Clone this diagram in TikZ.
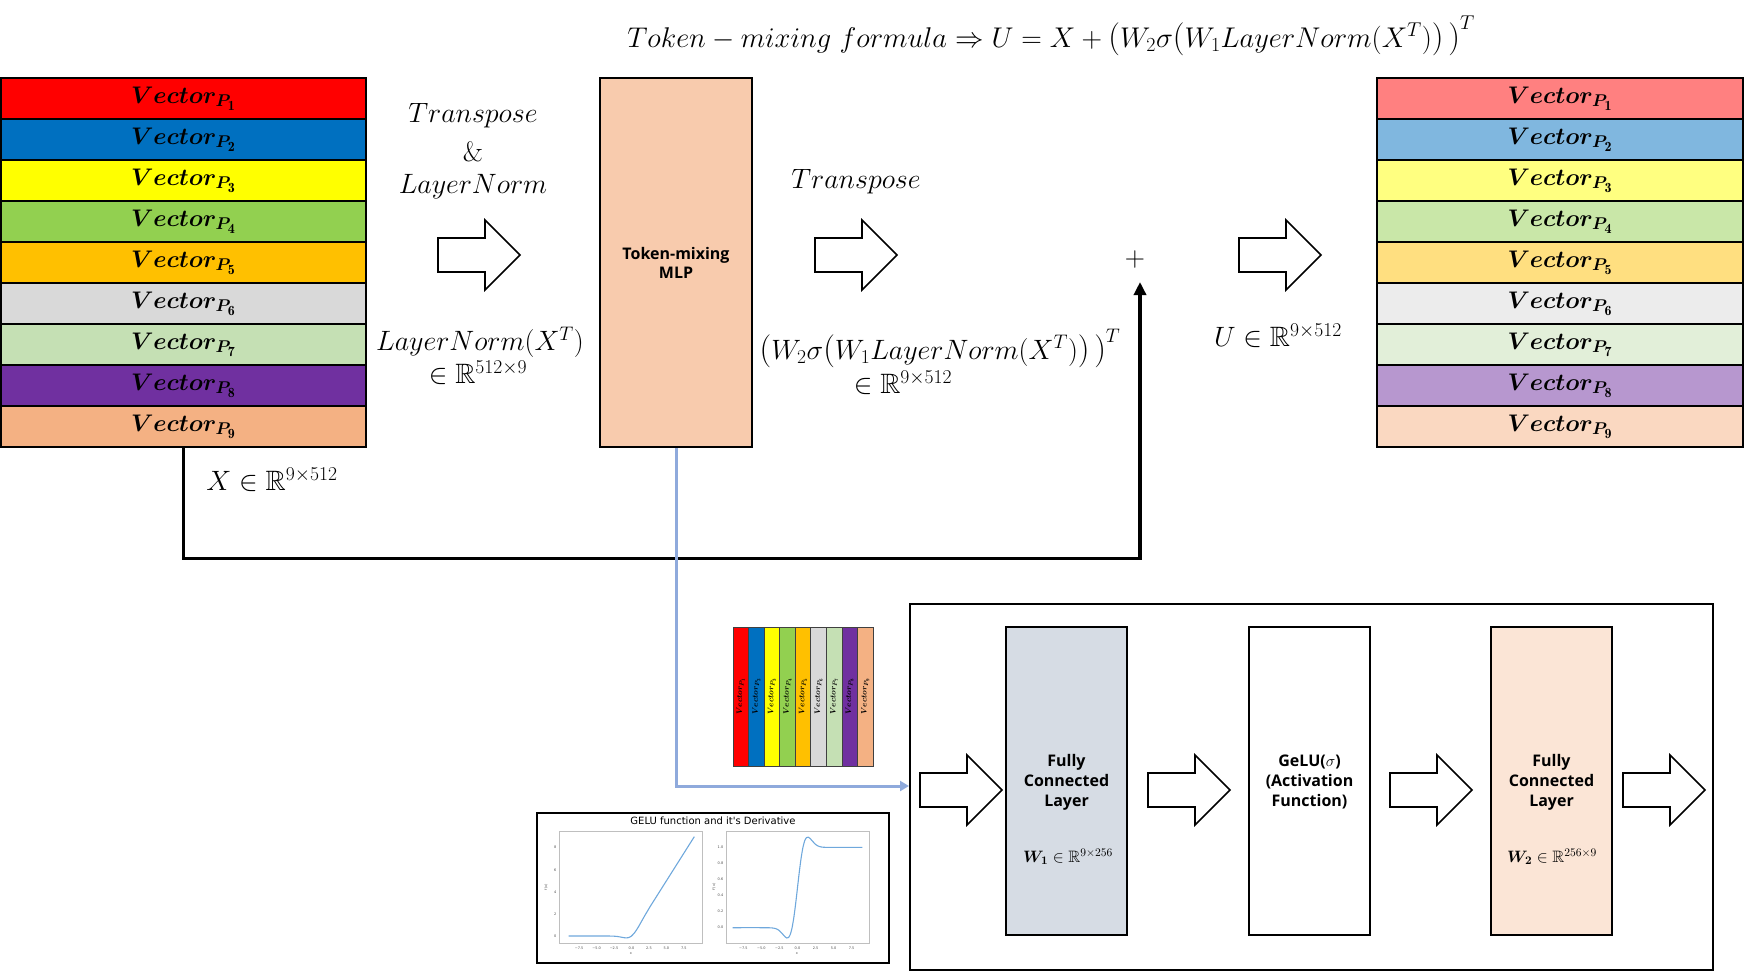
\RequirePackage{fix-cm}
\documentclass[tikz,border=0pt]{standalone}
\usepackage{amsmath,amssymb,bm}
\usepackage{fontspec}
\newfontfamily\osans{Open Sans}
\newfontfamily\djv{DejaVu Sans}
\usetikzlibrary{arrows.meta}
\DeclareMathSizes{24}{24}{17}{14}
\definecolor{c1}{HTML}{FF0000}
\definecolor{c2}{HTML}{0070C0}
\definecolor{c3}{HTML}{FFFF00}
\definecolor{c4}{HTML}{92D050}
\definecolor{c5}{HTML}{FFC000}
\definecolor{c6}{HTML}{D9D9D9}
\definecolor{c7}{HTML}{C5E0B4}
\definecolor{c8}{HTML}{7030A0}
\definecolor{c9}{HTML}{F4B183}
\definecolor{tokfill}{HTML}{F8CBAD}
\definecolor{fcone}{HTML}{D6DCE4}
\definecolor{fctwo}{HTML}{FBE5D6}
\definecolor{linkblue}{HTML}{8FAADC}
\definecolor{curveblue}{HTML}{6FA8DC}
\newcommand{\vlab}[1]{$\boldsymbol{Vector}_{\boldsymbol{P}_{\mathbf{#1}}}$}
\newcommand{\lpar}{\mathopen{\text{\fontsize{33}{33}\selectfont(}}}
\newcommand{\rpar}{\mathclose{\text{\fontsize{33}{33}\selectfont)}}}
\newcommand{\blockarrow}[2]{%
  \draw[barrow] (#1,#2-17) -- (#1+47,#2-17) -- (#1+47,#2-35) -- (#1+82,#2)
    -- (#1+47,#2+35) -- (#1+47,#2+17) -- (#1,#2+17) -- cycle;}
\tikzset{
  vrow/.style={draw=black, line width=2.5pt, minimum height=41pt, inner sep=0pt,
    font=\fontsize{24}{28}\selectfont},
  scol/.style={draw=black!75, line width=0.8pt, rotate=90, minimum width=139pt,
    minimum height=15.56pt, inner sep=0pt, font=\fontsize{8}{9}\selectfont},
  lbl/.style={font=\fontsize{28}{32}\selectfont, inner sep=0pt},
  barrow/.style={draw=black, fill=white, line width=1.6pt, line join=miter},
  box/.style={draw=black, line width=2pt, inner sep=0pt, align=center},
  fctext/.style={font=\osans\bfseries\fontsize{16}{20}\selectfont, align=center, inner sep=0pt},
  wlab/.style={font=\fontsize{16.5}{19}\selectfont, inner sep=0pt},
  frame/.style={draw=black!25, line width=0.9pt, minimum width=143pt, minimum height=112pt, inner sep=0pt},
  curve/.style={draw=curveblue, line width=1.1pt},
  tick/.style={font=\djv\fontsize{3.5}{4}\selectfont, text=black!70, inner sep=0.5pt},
  skipline/.style={draw=black, line width=3.3pt, line join=miter, -{Triangle[length=13pt,width=12pt]}},
  bluelink/.style={draw=linkblue, line width=3pt, line join=miter, -{Triangle[length=9pt,width=10pt]}},
}
\begin{document}
\begin{tikzpicture}[x=1pt, y=-1pt]
\useasboundingbox (0,0) rectangle (1753,972);

% title formula
\node[lbl, anchor=base, font=\fontsize{28.5}{30}\selectfont] (title) at (1051,47)
  {$Token - mixing\ formula \Rightarrow U = X + \lpar W_2\sigma\lpar W_1 LayerNorm(X^T)\rpar\,\rpar^T$};

% stacks
\foreach \i in {1,...,9} {
  \node[vrow, fill=c\i, minimum width=365pt] (L\i) at (183.5, 57.5+41*\i) {\vlab{\i}};
  \node[vrow, fill=c\i!50!white, minimum width=366pt] (R\i) at (1560, 57.5+41*\i) {\vlab{\i}};
  \node[scol, fill=c\i] (S\i) at (725.22+15.56*\i, 696.5) {\vlab{\i}};
}

% texts
\node[lbl] (tr1) at (473,116) {$Transpose$};
\node[lbl] (tr2) at (473,152) {$\&$};
\node[lbl] (tr3) at (473,187) {$LayerNorm$};
\node[lbl] (ln1) at (480,342) {$LayerNorm(X^T)$};
\node[lbl] (ln2) at (478,373) {$\in\mathbb{R}^{512\times 9}$};
\node[lbl] (xin) at (272,480) {$X\in\mathbb{R}^{9\times 512}$};
\node[lbl] (tr4) at (856,182) {$Transpose$};
\node[lbl] (wf1) at (940,348) {$\lpar W_2\sigma\lpar W_1 LayerNorm(X^T)\rpar\,\rpar^T$};
\node[lbl] (wf2) at (903,383) {$\in\mathbb{R}^{9\times 512}$};
\node[lbl] (uin) at (1278,336) {$U\in\mathbb{R}^{9\times 512}$};
\node[lbl] (plus) at (1135,259) {$+$};
\coordinate (sumin) at (1140,282);

% token-mixing box
\node[box, fill=tokfill, minimum width=152pt, minimum height=369pt,
  font=\osans\bfseries\fontsize{16}{19}\selectfont] (T) at (676,262.5)
  {Token-mixing\\ MLP};

% block arrows top
\blockarrow{438}{255}
\blockarrow{815}{255}
\blockarrow{1239}{255}

% skip connection
\draw[skipline] (L9.south) -- ++(0,110) -| (sumin);

% MLP detail box
\node[box, minimum width=803pt, minimum height=366pt] (mlp) at (1311.5,787) {};
\node[box, fill=fcone, minimum width=121pt, minimum height=308pt] (fc1) at (1066.5,781) {};
\node[box, fill=white, minimum width=121pt, minimum height=308pt] (act) at (1309.5,781) {};
\node[box, fill=fctwo, minimum width=121pt, minimum height=308pt] (fc2) at (1551.5,781) {};
\node[fctext] (fc1t) at (1066.5,782) {Fully\\ Connected\\ Layer};
\node[fctext] (actt) at (1309.5,782) {GeLU($\sigma$)\\ (Activation\\ Function)};
\node[fctext] (fc2t) at (1551.5,782) {Fully\\ Connected\\ Layer};
\node[wlab] (w1) at (1068,857) {$\boldsymbol{W_1}\in\mathbb{R}^{9\times 256}$};
\node[wlab] (w2) at (1552,857) {$\boldsymbol{W_2}\in\mathbb{R}^{256\times 9}$};
\blockarrow{920}{790}
\blockarrow{1148}{790}
\blockarrow{1390}{790}
\blockarrow{1623}{790}

% blue link
\coordinate (bluein) at (909,786);
\draw[bluelink] (T.south) |- (bluein);

% GELU plot picture
\node[draw=black, line width=2pt, minimum width=352pt, minimum height=150pt, inner sep=0pt] (gelu) at (713,888) {};
\node[font=\djv\fontsize{10}{11}\selectfont, inner sep=0pt] (gtitle) at (713,821) {GELU function and it's Derivative};
\node[frame] (axl) at (630.5,887) {};
\node[frame] (axr) at (797.5,887) {};
\begin{scope}[shift={(631.5,936)}, xscale=6.98, yscale=-11.04]
  \draw[curve] plot[smooth, tension=0.4] coordinates {(-9,0) (-4,-0.0001) (-3,-0.004) (-2.5,-0.0155) (-2,-0.0455) (-1.5,-0.1002) (-1,-0.1587) (-0.75,-0.170) (-0.5,-0.154) (-0.25,-0.1003) (0,0) (0.5,0.346) (1,0.841) (1.5,1.400) (2,1.955) (2.5,2.484) (3,2.996) (9,9)};
\end{scope}
\begin{scope}[shift={(797.5,927.7)}, xscale=7.22, yscale=-80.3]
  \draw[curve] plot[smooth, tension=0.4] coordinates {(-9,0) (-4,-0.0005) (-3,-0.012) (-2.5,-0.0376) (-2,-0.0853) (-1.75,-0.1109) (-1.5,-0.1275) (-1.25,-0.1227) (-1,-0.0833) (-0.75,0.0007) (-0.5,0.1325) (-0.25,0.3046) (0,0.5) (0.25,0.6954) (0.5,0.8675) (0.75,0.9993) (1,1.0833) (1.25,1.1227) (1.5,1.1275) (1.75,1.1109) (2,1.0853) (2.5,1.0376) (3,1.012) (4,1.0005) (9,1)};
\end{scope}
% tick labels
\foreach \t/\s in {-7.5/−7.5,-5/−5.0,-2.5/−2.5,0/0.0,2.5/2.5,5/5.0,7.5/7.5} {
  \node[tick] at (631.5+6.98*\t, 948) {\s};
  \node[tick] at (797.5+7.22*\t, 948) {\s};
}
\foreach \v in {0,2,4,6,8} {
  \node[tick, anchor=east] at (557, 936-11.04*\v) {\v};
}
\foreach \v/\s in {0/0.0,0.2/0.2,0.4/0.4,0.6/0.6,0.8/0.8,1/1.0} {
  \node[tick, anchor=east] at (724, 927.7-80.3*\v) {\s};
}
\node[tick] (xl) at (631,954) {x};
\node[tick] (xr) at (797,954) {x};
\node[tick, rotate=90] (fl) at (546,887) {f(x)};
\node[tick, rotate=90] (fr) at (714,887) {f'(x)};
\end{tikzpicture}
\end{document}
